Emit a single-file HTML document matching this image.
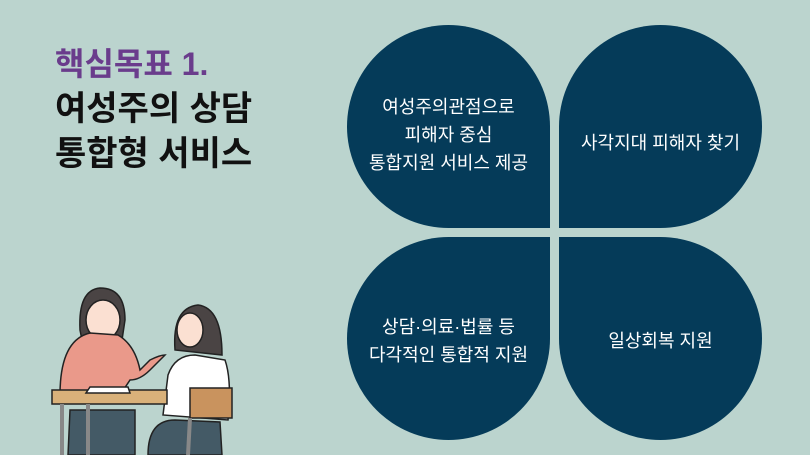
<!DOCTYPE html>
<html><head><meta charset="utf-8"><style>
body{margin:0;width:810px;height:455px;background:#bbd4ce;position:relative;overflow:hidden;font-family:"Liberation Sans","Noto Sans CJK KR",sans-serif}
.t{position:absolute;left:55px;font-weight:bold;white-space:nowrap;line-height:1}
.p{position:absolute;width:203px;height:203px;background:#053b59;color:#fff;display:flex;align-items:center;justify-content:center;text-align:center;font-size:18px;line-height:28px;box-sizing:border-box}
</style></head><body>
<div class="t" style="top:48px;font-size:32px;color:#6a3c8c">핵심목표 1.</div>
<div class="t" style="top:92px;font-size:34px;color:#111">여성주의 상담</div>
<div class="t" style="top:137px;font-size:34px;color:#111">통합형 서비스</div>
<div class="p" style="left:347px;top:25px;border-radius:102px 102px 0 102px;padding-top:16px">여성주의관점으로<br>피해자 중심<br>통합지원 서비스 제공</div>
<div class="p" style="left:559px;top:25px;border-radius:102px 102px 102px 0;padding-top:32px">사각지대 피해자 찾기</div>
<div class="p" style="left:347px;top:237px;border-radius:102px 0 102px 102px;padding-top:4px">상담·의료·법률 등<br>다각적인 통합적 지원</div>
<div class="p" style="left:559px;top:237px;border-radius:0 102px 102px 102px;padding-top:4px">일상회복 지원</div>
<svg style="position:absolute;left:0;top:270px" width="260" height="185" viewBox="0 0 260 185" stroke="#222" stroke-width="1.5">
<path d="M80 60 Q78 20 100 18 Q125 18 125 50 L122 70 L82 70Z" fill="#4a4444"/>
<ellipse cx="103" cy="50" rx="17" ry="20" fill="#fbe0d2"/>
<path d="M60 125 Q60 70 90 63 L118 65 Q135 75 140 100 L150 90 Q160 85 165 85 L150 100 Q140 110 130 110 L120 125Z" fill="#ea998a"/>
<path d="M175 80 Q172 38 198 35 Q222 38 222 85 Z" fill="#4a4444"/>
<ellipse cx="190" cy="60" rx="13" ry="17" fill="#fbe0d2"/>
<path d="M163 145 L168 105 Q175 85 195 85 L225 90 Q232 110 228 150 Z" fill="#fff"/>
<rect x="190" y="118" width="42" height="30" fill="#c9935e"/>
<path d="M148 185 Q148 150 175 150 L220 152 L222 185Z" fill="#445a66"/>
<path d="M68 185 L70 140 L135 140 L135 185Z" fill="#445a66"/>
<rect x="52" y="120" width="115" height="14" fill="#d9b17a"/>
<path d="M86 123 L130 123 L128 117 L90 117Z" fill="#fff"/>
<line x1="62" y1="134" x2="62" y2="185" stroke="#888" stroke-width="4"/>
<line x1="88" y1="134" x2="88" y2="185" stroke="#888" stroke-width="4"/>
<line x1="190" y1="148" x2="188" y2="185" stroke="#888" stroke-width="4"/>
</svg>
</body></html>
